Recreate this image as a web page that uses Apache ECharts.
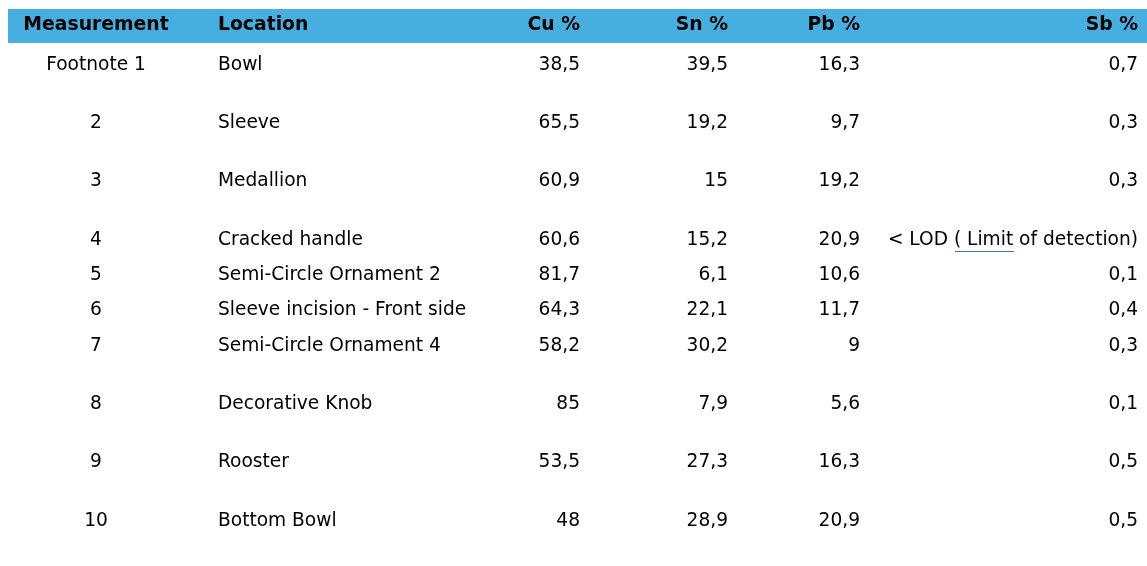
<!DOCTYPE html>
<html>
<head>
<meta charset="utf-8">
<script src="https://cdn.jsdelivr.net/npm/echarts@6/dist/echarts.min.js"></script>
<style>html,body{margin:0;padding:0;background:#fff;}#c{width:1147px;height:566px;}</style>
</head>
<body>
<div id="c"></div>
<script>
// ---- data ----
var headers = ['Measurement', 'Location', 'Cu %', 'Sn %', 'Pb %', 'Sb %'];
var measurements = ['Footnote 1', '2', '3', '4', '5', '6', '7', '8', '9', '10'];
var locations = ['Bowl', 'Sleeve', 'Medallion', 'Cracked handle', 'Semi-Circle Ornament 2',
  'Sleeve incision - Front side', 'Semi-Circle Ornament 4', 'Decorative Knob', 'Rooster', 'Bottom Bowl'];
var cu = ['38,5', '65,5', '60,9', '60,6', '81,7', '64,3', '58,2', '85', '53,5', '48'];
var sn = ['39,5', '19,2', '15', '15,2', '6,1', '22,1', '30,2', '7,9', '27,3', '28,9'];
var pb = ['16,3', '9,7', '19,2', '20,9', '10,6', '11,7', '9', '5,6', '16,3', '20,9'];
var sb = ['0,7', '0,3', '0,3', '< LOD ( Limit of detection)', '0,1', '0,4', '0,3', '0,1', '0,5', '0,5'];

// ---- layout (pixel space of the hidden axes) ----
var FONT = 'DejaVu Sans';
var FS = 18.6;
var HFS = 18.8;
var headerY = 25.5;
var firstRowY = 65;
var rowGaps = [0, 58, 58, 59, 35, 35, 36, 58, 58, 59];
var colAnchor = [96, 218, 580, 728, 860, 1138];
var colAlign = ['center', 'left', 'right', 'right', 'right', 'right'];

var rowY = [];
var acc = firstRowY;
for (var i = 0; i < rowGaps.length; i++) { acc += rowGaps[i]; rowY.push(acc); }

var columns = [measurements, locations, cu, sn, pb, sb];

var series = [];
columns.forEach(function (col, ci) {
  var pts = [[colAnchor[ci], headerY, headers[ci], 1]];
  col.forEach(function (v, ri) { pts.push([colAnchor[ci], rowY[ri], v, 0]); });
  series.push({
    type: 'custom',
    silent: true,
    data: pts,
    renderItem: function (params, api) {
      var p = api.coord([api.value(0), api.value(1)]);
      var bold = api.value(3) === 1;
      return {
        type: 'text',
        style: {
          x: p[0], y: p[1],
          text: pts[params.dataIndex][2],
          fill: '#000',
          font: (bold ? 'bold ' + HFS : FS) + 'px "' + FONT + '"',
          textAlign: colAlign[ci],
          textVerticalAlign: 'middle'
        }
      };
    }
  });
});

var chart = echarts.init(document.getElementById('c'));
chart.setOption({
  animation: false,
  backgroundColor: '#fff',
  grid: { left: 0, right: 0, top: 0, bottom: 0 },
  xAxis: { type: 'value', min: 0, max: 1147, show: false },
  yAxis: { type: 'value', min: 0, max: 566, inverse: true, show: false },
  graphic: [
    { type: 'rect', z: -1, shape: { x: 8, y: 9, width: 1139, height: 34 }, style: { fill: '#47AEE0' } },
    { type: 'line', shape: { x1: 955, y1: 251.5, x2: 1014, y2: 251.5 }, style: { stroke: '#3A6FD0', lineWidth: 1 } }
  ],
  series: series
});
</script>
</body>
</html>
